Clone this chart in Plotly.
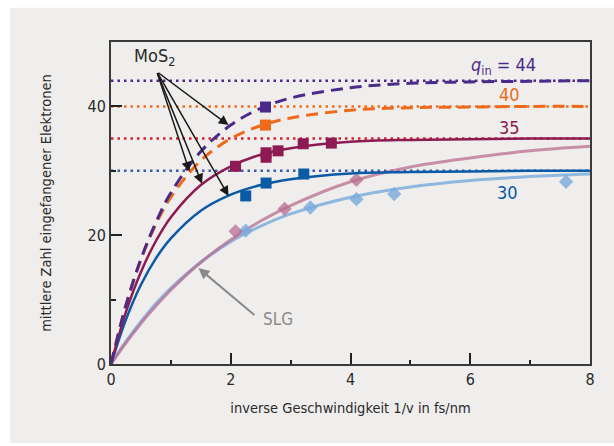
import plotly.graph_objects as go

# ---------------- data ----------------
curve_x = [0, 0.25, 0.5, 0.75, 1, 1.5, 2, 2.5, 3, 4, 5, 6, 7, 8]
mos2_44 = [0, 9.1, 16.3, 22.0, 26.6, 33.0, 37.1, 39.7, 41.3, 42.9, 43.6, 43.8, 43.9, 44.0]
mos2_40 = [0, 9.2, 16.2, 21.7, 25.9, 31.6, 35.0, 37.0, 38.2, 39.4, 39.8, 39.9, 40.0, 40.0]
mos2_35 = [0, 8.1, 14.3, 19.1, 22.8, 27.8, 30.7, 32.5, 33.5, 34.5, 34.8, 34.9, 35.0, 35.0]
mos2_30 = [0, 6.9, 12.3, 16.4, 19.5, 23.8, 26.3, 27.8, 28.7, 29.6, 29.8, 29.9, 30.0, 30.0]
slg_35 = [0, 3.3, 6.3, 9.0, 11.5, 15.8, 19.3, 22.2, 24.6, 28.3, 30.6, 32.0, 33.1, 33.8]
slg_30 = [0, 3.5, 6.6, 9.4, 11.8, 15.8, 19.0, 21.4, 23.3, 25.9, 27.5, 28.5, 29.1, 29.5]

sq44_x = [2.58]; sq44_y = [39.9]
sq40_x = [2.58]; sq40_y = [37.1]
sq35_x = [2.08, 2.59, 2.59, 2.79, 3.21, 3.68]
sq35_y = [30.7, 32.8, 32.1, 33.1, 34.2, 34.3]
sq30_x = [2.25, 2.59, 3.22]
sq30_y = [26.1, 28.1, 29.5]
dia35_x = [2.08, 2.90, 4.10]
dia35_y = [20.6, 24.1, 28.6]
dia30_x = [2.25, 3.33, 4.10, 4.73, 7.60]
dia30_y = [20.7, 24.3, 25.6, 26.4, 28.3]

q_levels = [44, 40, 35, 30]
q_labels = ["<i>q</i><sub>in</sub> = 44", "40", "35", "30"]

x_ticks = [0, 2, 4, 6, 8]
y_ticks = [0, 20, 40]

# ---------------- styles ----------------
FONT = "Liberation Sans Narrow, DejaVu Sans Condensed, Roboto, sans-serif"
C44 = "#4b2a8a"
C40 = "#ee6a1a"
C35 = "#8e1a52"
C30 = "#0a5aa6"
DOT = {44: "#4b2a8a", 40: "#ef6c1a", 35: "#d2232e", 30: "#3b5ba8"}
LBL = {44: C44, 40: C40, 35: C35, 30: C30}
PINK = "rgba(185,110,145,0.75)"
LBLUE = "rgba(120,170,220,0.8)"

fig = go.Figure()

# dotted level lines
for q in q_levels:
    fig.add_trace(go.Scatter(x=[0, 8], y=[q, q], mode="lines",
                             line=dict(color=DOT[q], width=2.5, dash="2.5px,4px"),
                             hoverinfo="skip", showlegend=False))

# SLG curves and points
fig.add_trace(go.Scatter(x=curve_x, y=slg_30, mode="lines", line=dict(color=LBLUE, width=3, shape="spline"), showlegend=False))
fig.add_trace(go.Scatter(x=curve_x, y=slg_35, mode="lines", line=dict(color=PINK, width=3, shape="spline"), showlegend=False))
fig.add_trace(go.Scatter(x=dia30_x, y=dia30_y, mode="markers", marker=dict(symbol="diamond", size=11, color=LBLUE), showlegend=False))
fig.add_trace(go.Scatter(x=dia35_x, y=dia35_y, mode="markers", marker=dict(symbol="diamond", size=11, color=PINK), showlegend=False))

# MoS2 curves
fig.add_trace(go.Scatter(x=curve_x, y=mos2_30, mode="lines", line=dict(color=C30, width=2.5, shape="spline"), showlegend=False))
fig.add_trace(go.Scatter(x=curve_x, y=mos2_35, mode="lines", line=dict(color=C35, width=2.5, shape="spline"), showlegend=False))
fig.add_trace(go.Scatter(x=curve_x, y=mos2_40, mode="lines", line=dict(color=C40, width=3, shape="spline", dash="12px,7px"), showlegend=False))
fig.add_trace(go.Scatter(x=curve_x, y=mos2_44, mode="lines", line=dict(color=C44, width=3, shape="spline", dash="12px,7px"), showlegend=False))

for xs, ys, c in [(sq30_x, sq30_y, C30), (sq35_x, sq35_y, C35), (sq40_x, sq40_y, C40), (sq44_x, sq44_y, C44)]:
    fig.add_trace(go.Scatter(x=xs, y=ys, mode="markers", marker=dict(symbol="square", size=11, color=c), showlegend=False))

# level labels
lbl_pos = {44: (6.55, 46.3), 40: (6.66, 41.8), 35: (6.66, 36.8), 30: (6.63, 26.7)}
for q, t in zip(q_levels, q_labels):
    x, y = lbl_pos[q]
    fig.add_annotation(x=x, y=y, text=t, showarrow=False, font=dict(family=FONT, size=18, color=LBL[q]))

# MoS2 label and arrows
fig.add_annotation(x=0.73, y=47.6, text="MoS<sub>2</sub>", showarrow=False, font=dict(family=FONT, size=18, color="#2a2a2a"))
for tx, ty in [(1.963, 37.1), (1.31, 29.9), (1.52, 28.0), (1.963, 26.1)]:
    fig.add_annotation(x=tx, y=ty, ax=0.765, ay=45.4, axref="x", ayref="y", text="", showarrow=True,
                       arrowhead=2, arrowsize=1.3, arrowwidth=1.5, arrowcolor="#1a1a1a", standoff=0)

# SLG label and arrow
fig.add_annotation(x=2.79, y=7.0, text="SLG", showarrow=False, font=dict(family=FONT, size=17, color="#8a8a8a"))
fig.add_annotation(x=1.46, y=14.9, ax=2.42, ay=7.4, axref="x", ayref="y", text="", showarrow=True,
                   arrowhead=2, arrowsize=1.1, arrowwidth=2, arrowcolor="#8a8a8a", standoff=0)

# grey panel behind
fig.add_shape(type="rect", xref="paper", yref="paper", x0=-0.211, x1=1.06, y0=-0.245, y1=1.106,
              fillcolor="#efeeec", line=dict(width=0), layer="below")

axis_common = dict(showline=True, linecolor="#3a3a3a", linewidth=2, mirror=True, showgrid=False, zeroline=False,
                   ticks="inside", ticklen=11, tickwidth=1.5, tickcolor="#222",
                   tickfont=dict(family=FONT, size=16, color="#2a2a2a"))

fig.update_layout(
    width=614, height=446,
    margin=dict(l=111, r=24, t=42, b=82),
    paper_bgcolor="white", plot_bgcolor="#d5e6f7",
    font=dict(family=FONT),
    xaxis=dict(range=[0, 8], tickvals=x_ticks, ticktext=[str(v) for v in x_ticks],
               minor=dict(ticks="inside", ticklen=4.5, tickwidth=1.5, tickcolor="#222", dtick=1, tick0=0),
               title=dict(text="inverse Geschwindigkeit 1/v in fs/nm", font=dict(family=FONT, size=14.5, color="#2a2a2a"), standoff=15),
               **axis_common),
    yaxis=dict(range=[0, 50], tickvals=y_ticks, ticktext=[str(v) for v in y_ticks],
               minor=dict(ticks="inside", ticklen=4.5, tickwidth=1.5, tickcolor="#222", dtick=10, tick0=0),
               title=dict(text="mittlere Zahl eingefangener Elektronen", font=dict(family=FONT, size=14.5, color="#2a2a2a"), standoff=32),
               **axis_common),
)

fig.write_html("out.html", config={"displayModeBar": False}, post_script="document.body.style.margin='0';")
